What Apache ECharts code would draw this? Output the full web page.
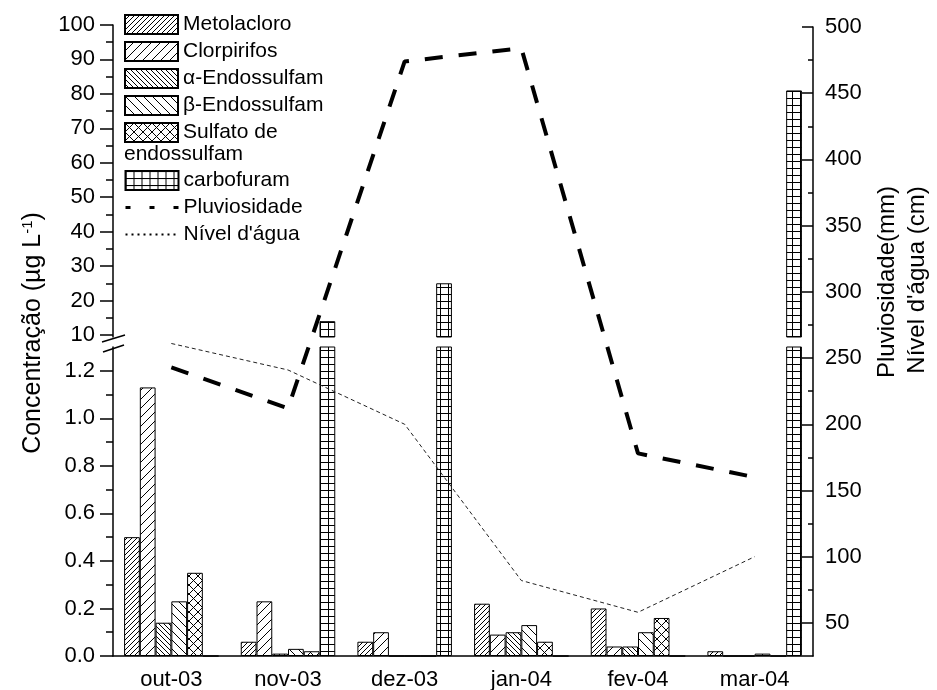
<!DOCTYPE html>
<html><head><meta charset="utf-8">
<script src="https://cdn.jsdelivr.net/npm/echarts@6/dist/echarts.min.js"></script>
<style>html,body{margin:0;padding:0;background:#fff}#c{width:937px;height:690px}</style>
</head><body><div id="c"></div>
<script>
// ---- data ----
const months = ['out-03', 'nov-03', 'dez-03', 'jan-04', 'fev-04', 'mar-04'];
const metolacloro = [0.50, 0.06, 0.06, 0.22, 0.20, 0.02];
const clorpirifos = [1.13, 0.23, 0.10, 0.09, 0.04, 0];
const alfaEndossulfam = [0.14, 0.01, 0, 0.10, 0.04, 0];
const betaEndossulfam = [0.23, 0.03, 0, 0.13, 0.10, 0.01];
const sulfatoEndossulfam = [0.35, 0.02, 0, 0.06, 0.16, 0];
const carbofuram = [0, 14, 25, 0, 0, 81];
const pluviosidade = [243, 212, 474, 484, 178, 160];
const nivelAgua = [261, 241, 200, 82, 58, 100];
const lowerTicks = [0, 0.2, 0.4, 0.6, 0.8, 1.0, 1.2];
const lowerMinorTicks = [0.1, 0.3, 0.5, 0.7, 0.9, 1.1];
const upperTicks = [10, 20, 30, 40, 50, 60, 70, 80, 90, 100];
const upperMinorTicks = [15, 25, 35, 45, 55, 65, 75, 85, 95];
const rightTicks = [50, 100, 150, 200, 250, 300, 350, 400, 450, 500];
const rightMinorTicks = [75, 125, 175, 225, 275, 325, 375, 425, 475];
const barNames = ['Metolacloro', 'Clorpirifos', 'α-Endossulfam', 'β-Endossulfam', 'Sulfato de endossulfam', 'carbofuram'];
const barData = [metolacloro, clorpirifos, alfaEndossulfam, betaEndossulfam, sulfatoEndossulfam, carbofuram];

// ---- styles ----
const FONT = '"Liberation Sans", Arial, Helvetica, sans-serif';
const UPPER_MIN = 9.4;
function pat(kind, s) {
  const c = document.createElement('canvas');
  let w = s, h = s;
  if (kind === 'grid') { w = 8; h = 7; }
  c.width = w; c.height = h;
  const g = c.getContext('2d');
  g.fillStyle = '#fff'; g.fillRect(0, 0, w, h);
  g.strokeStyle = '#000'; g.lineWidth = 1;
  g.beginPath();
  if (kind === 'fwd' || kind === 'cross') {
    g.moveTo(0, s); g.lineTo(s, 0);
    g.moveTo(-1, 1); g.lineTo(1, -1);
    g.moveTo(s - 1, s + 1); g.lineTo(s + 1, s - 1);
  }
  if (kind === 'back' || kind === 'cross') {
    g.moveTo(0, 0); g.lineTo(s, s);
    g.moveTo(-1, s - 1); g.lineTo(1, s + 1);
    g.moveTo(s - 1, -1); g.lineTo(s + 1, 1);
  }
  if (kind === 'grid') {
    g.moveTo(0.5, 0); g.lineTo(0.5, h);
    g.moveTo(0, 0.5); g.lineTo(w, 0.5);
  }
  g.stroke();
  return { image: c, repeat: 'repeat' };
}
const fills = [pat('fwd', 5), pat('fwd', 9), pat('back', 5), pat('back', 9), pat('cross', 9), pat('grid')];
const black = { color: '#000', width: 1.5 };
const tickFont = { color: '#000', fontSize: 22, fontFamily: FONT };

const L = 113, W = 700;
function yAxisDef(grid, pos, min, max, ticks, len, inside, labels, margin) {
  return {
    gridIndex: grid, type: 'value', position: pos, min: min, max: max,
    axisLine: { show: !!labels, onZero: false, lineStyle: black },
    axisTick: { show: true, inside: inside, length: len, customValues: ticks, lineStyle: black },
    axisLabel: labels ? Object.assign({ customValues: ticks, margin: margin, formatter: labels }, tickFont) : { show: false },
    splitLine: { show: false }
  };
}

const series = [];
barNames.forEach((n, i) => {
  series.push({
    type: 'bar', name: n, xAxisIndex: 0, yAxisIndex: 0, data: barData[i],
    barGap: '0%', barCategoryGap: '19%', clip: true,
    itemStyle: { color: fills[i], borderColor: '#000', borderWidth: 1 },
    emphasis: { disabled: true }
  });
});
barNames.forEach((n, i) => {
  series.push({
    type: 'bar', name: n, xAxisIndex: 2, yAxisIndex: 2,
    data: barData[i].map(v => v > UPPER_MIN ? v : '-'),
    barGap: '0%', barCategoryGap: '19%', clip: true,
    itemStyle: { color: fills[i], borderColor: '#000', borderWidth: 1 },
    emphasis: { disabled: true }
  });
});
series.push({
  type: 'line', name: 'Pluviosidade', xAxisIndex: 3, yAxisIndex: 4, data: pluviosidade,
  symbol: 'none', z: 5, itemStyle: { color: '#000' },
  lineStyle: { color: '#000', width: 4, type: [18, 16], cap: 'butt' },
  emphasis: { disabled: true }
});
series.push({
  type: 'line', name: "Nível d'água", xAxisIndex: 3, yAxisIndex: 4, data: nivelAgua,
  symbol: 'none', z: 5, itemStyle: { color: '#000' },
  lineStyle: { color: '#222', width: 1, type: [4, 3] },
  emphasis: { disabled: true }
});

const legendText = { fontSize: 21, lineHeight: 20, color: '#000', fontFamily: FONT };
const noSym = { color: 'rgba(0,0,0,0)', borderWidth: 0, opacity: 0 };
const option = {
  animation: false,
  backgroundColor: '#fff',
  textStyle: { fontFamily: FONT },
  grid: [
    { left: L, width: W, top: 347, height: 309, containLabel: false, outerBoundsMode: 'none' },
    { left: L, width: W, top: 25, height: 312, containLabel: false, outerBoundsMode: 'none' },
    { left: L, width: W, top: 27, height: 629, containLabel: false, outerBoundsMode: 'none' }
  ],
  xAxis: [
    { gridIndex: 0, type: 'category', data: months, position: 'bottom',
      axisLine: { onZero: false, lineStyle: black },
      axisTick: { alignWithLabel: true, interval: 0, length: 8, lineStyle: black },
      axisLabel: Object.assign({ interval: 0, margin: 13 }, tickFont),
      splitLine: { show: false } },
    { gridIndex: 0, type: 'category', data: months, position: 'bottom',
      axisLine: { show: false },
      axisTick: { interval: 0, length: 5, lineStyle: black },
      axisLabel: { show: false }, splitLine: { show: false } },
    { gridIndex: 1, type: 'category', data: months, show: false },
    { gridIndex: 2, type: 'category', data: months, show: false }
  ],
  yAxis: [
    yAxisDef(0, 'left', 0, 1.3, lowerTicks, 13, false, v => v.toFixed(1), 18),
    yAxisDef(0, 'left', 0, 1.3, lowerMinorTicks, 7, false, null),
    yAxisDef(1, 'left', UPPER_MIN, 100, upperTicks, 13, false, v => String(Math.round(v)), 18),
    yAxisDef(1, 'left', UPPER_MIN, 100, upperMinorTicks, 7, false, null),
    yAxisDef(2, 'right', 25, 500, rightTicks, 11, true, v => String(Math.round(v)), 12),
    yAxisDef(2, 'right', 25, 500, rightMinorTicks, 5, true, null)
  ],
  legend: [
    { orient: 'vertical', left: 124, top: 14, padding: 0, itemWidth: 53, itemHeight: 19, itemGap: 6,
      selectedMode: false, textStyle: legendText,
      formatter: n => n === 'Sulfato de endossulfam' ? 'Sulfato de' : n,
      data: barNames.slice(0, 5).map(n => ({ name: n, icon: 'rect' })) },
    { orient: 'vertical', left: 124, top: 170, padding: 0, itemWidth: 53, itemHeight: 19, itemGap: 6,
      selectedMode: false, textStyle: legendText,
      data: [
        { name: 'carbofuram', icon: 'rect' },
        { name: 'Pluviosidade', icon: 'inherit', itemStyle: noSym, lineStyle: { width: 3, type: [5, 19], color: '#000' } },
        { name: "Nível d'água", icon: 'inherit', itemStyle: noSym, lineStyle: { width: 2, type: [2, 4], color: '#000' } }
      ] }
  ],
  graphic: [
    { type: 'text', left: 124, top: 144, style: { text: 'endossulfam', font: '21px ' + FONT, fill: '#000' } },
    { type: 'line', shape: { x1: 102, y1: 342, x2: 125, y2: 335 }, style: { stroke: '#000', lineWidth: 1.5 } },
    { type: 'line', shape: { x1: 103, y1: 352, x2: 124, y2: 345 }, style: { stroke: '#000', lineWidth: 1.5 } },
    { type: 'text', x: 33, y: 333, rotation: Math.PI / 2,
      style: { text: 'Concentração (µg L{sup|-1})', font: '25px ' + FONT, fill: '#000',
        align: 'center', verticalAlign: 'middle', textAlign: 'center', textVerticalAlign: 'middle',
        rich: { sup: { fontSize: 15, fontFamily: FONT, verticalAlign: 'top', fill: '#000' } } } },
    { type: 'text', x: 887, y: 282, rotation: Math.PI / 2,
      style: { text: 'Pluviosidade(mm)', font: '24px ' + FONT, fill: '#000',
        align: 'center', verticalAlign: 'middle', textAlign: 'center', textVerticalAlign: 'middle' } },
    { type: 'text', x: 917, y: 280, rotation: Math.PI / 2,
      style: { text: "Nível d'água (cm)", font: '24px ' + FONT, fill: '#000',
        align: 'center', verticalAlign: 'middle', textAlign: 'center', textVerticalAlign: 'middle' } }
  ],
  series: series
};
const chart = echarts.init(document.getElementById('c'), null, { renderer: 'canvas' });
chart.setOption(option);
</script>
</body></html>
